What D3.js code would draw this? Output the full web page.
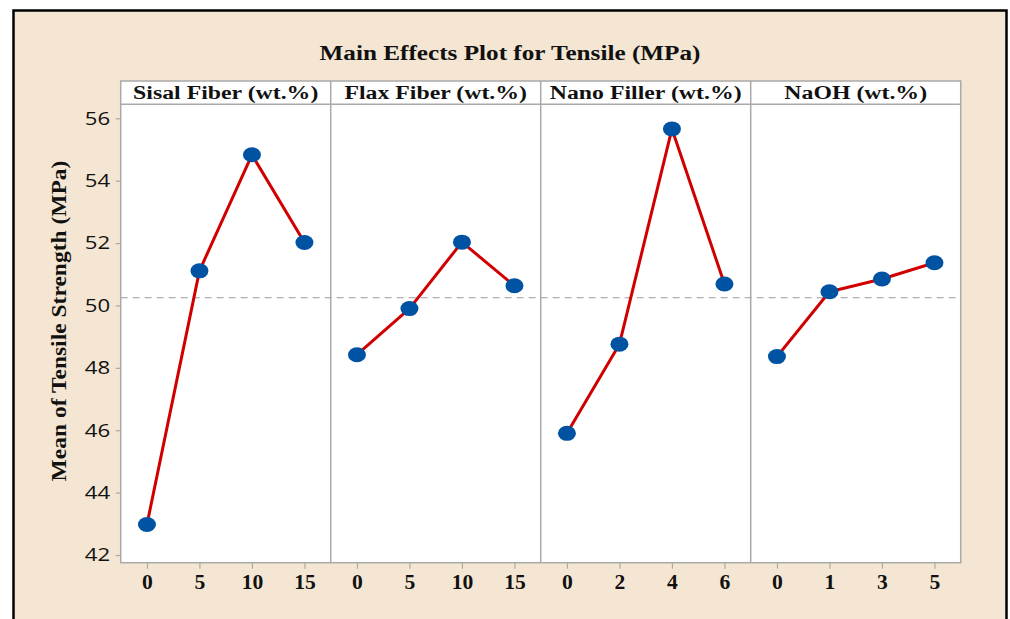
<!DOCTYPE html>
<html>
<head>
<meta charset="utf-8">
<script src="https://cdn.jsdelivr.net/npm/d3@7"></script>
<style>
  html, body { margin: 0; padding: 0; background: #ffffff; }
  svg { display: block; }
</style>
</head>
<body>
<div id="chart"></div>
<script>
// Factor names shown in the panel headers
const factors = ["Sisal Fiber (wt.%)", "Flax Fiber (wt.%)", "Nano Filler (wt.%)", "NaOH (wt.%)"];

// Levels of each factor (x tick labels)
const sisalLevels = ["0", "5", "10", "15"];
const flaxLevels = ["0", "5", "10", "15"];
const nanoLevels = ["0", "2", "4", "6"];
const naohLevels = ["0", "1", "3", "5"];

// Mean tensile strength (MPa) at each level
const sisalMeans = [42.98, 51.11, 54.83, 52.02];
const flaxMeans = [48.42, 49.90, 52.03, 50.63];
const nanoMeans = [45.90, 48.76, 55.66, 50.69];
const naohMeans = [48.36, 50.44, 50.85, 51.37];

// Y axis ticks
const yTicks = [42, 44, 46, 48, 50, 52, 54, 56];

const panels = [
  { name: factors[0], levels: sisalLevels, means: sisalMeans },
  { name: factors[1], levels: flaxLevels, means: flaxMeans },
  { name: factors[2], levels: nanoLevels, means: nanoMeans },
  { name: factors[3], levels: naohLevels, means: naohMeans }
];

const grandMean = d3.mean(panels.flatMap(p => p.means));

const W = 1010, H = 619;
const plotLeft = 120.7, plotRight = 960.7;
const headerTop = 81, headerBottom = 104.3, plotBottom = 562.7;
const panelW = (plotRight - plotLeft) / panels.length;
const frameGray = "#a9a9a9";
const serif = "'Liberation Serif', 'Times New Roman', serif";
const sans = "'Open Sans', 'Noto Sans', sans-serif";
const wide = 1.2; // horizontal stretch applied to the lettering

const svg = d3.select("#chart").append("svg")
  .attr("width", W).attr("height", H);

// page + beige frame with black border
svg.append("rect").attr("width", W).attr("height", H).attr("fill", "#ffffff");
svg.append("rect")
  .attr("x", 13.5).attr("y", 10.5)
  .attr("width", 993).attr("height", 640)
  .attr("fill", "#f4e6d2")
  .attr("stroke", "#000").attr("stroke-width", 2.5);

// title
svg.append("text")
  .attr("transform", `translate(510,60) scale(${wide},1)`)
  .attr("text-anchor", "middle")
  .attr("font-family", serif).attr("font-weight", "bold")
  .attr("font-size", 21)
  .attr("fill", "#111")
  .text("Main Effects Plot for Tensile (MPa)");

// y scale shared by all panels
const y = d3.scaleLinear().domain([42, 56]).range([555, 118.3]);

// white plotting area + header strip
svg.append("rect")
  .attr("x", plotLeft).attr("y", headerTop)
  .attr("width", plotRight - plotLeft).attr("height", plotBottom - headerTop)
  .attr("fill", "#ffffff");

// grand mean reference line
svg.append("line")
  .attr("x1", plotLeft).attr("x2", plotRight)
  .attr("y1", y(grandMean)).attr("y2", y(grandMean))
  .attr("stroke", "#9a9a9a").attr("stroke-width", 1.2)
  .attr("stroke-dasharray", "7,5");

// y axis
const yAxis = svg.append("g")
  .attr("transform", `translate(${plotLeft},0)`)
  .call(d3.axisLeft(y).tickValues(yTicks).tickSize(5).tickPadding(5).tickFormat(d3.format("d")));
yAxis.select(".domain").remove();
yAxis.selectAll(".tick line").attr("stroke", frameGray).attr("stroke-width", 1.2);
yAxis.selectAll(".tick text")
  .attr("x", 0)
  .attr("transform", `translate(-10.5,0) scale(${wide},1)`)
  .attr("font-family", sans)
  .attr("font-size", 18.5).attr("fill", "#111");

// y axis title
svg.append("text")
  .attr("transform", "translate(66,321) rotate(-90) scale(1.12,1)")
  .attr("text-anchor", "middle")
  .attr("font-family", serif).attr("font-weight", "bold")
  .attr("font-size", 21)
  .attr("fill", "#111")
  .text("Mean of Tensile Strength (MPa)");

panels.forEach((p, i) => {
  const x0 = plotLeft + i * panelW;
  const x = d3.scalePoint().domain(p.levels).range([x0, x0 + panelW]).padding(0.5);
  const g = svg.append("g");

  // header label
  g.append("text")
    .attr("transform", `translate(${x0 + panelW / 2},99) scale(1.22,1)`)
    .attr("text-anchor", "middle")
    .attr("font-family", serif).attr("font-weight", "bold")
    .attr("font-size", 19.5).attr("fill", "#111")
    .text(p.name);

  // x axis
  const xa = g.append("g")
    .attr("transform", `translate(0,${plotBottom})`)
    .call(d3.axisBottom(x).tickSize(6).tickPadding(6));
  xa.select(".domain").remove();
  xa.selectAll(".tick line").attr("stroke", frameGray).attr("stroke-width", 1.2);
  xa.selectAll(".tick text")
    .attr("y", 0)
    .attr("transform", "translate(0,12) scale(1.08,1)")
    .attr("font-family", serif).attr("font-weight", "bold")
    .attr("font-size", 20).attr("fill", "#111");

  // connecting line
  const pts = p.levels.map((l, j) => [x(l), y(p.means[j])]);
  g.append("path")
    .attr("d", d3.line()(pts))
    .attr("fill", "none")
    .attr("stroke", "#d10000").attr("stroke-width", 3)
    .attr("stroke-linejoin", "round");

  // level means
  g.selectAll("ellipse").data(pts).join("ellipse")
    .attr("cx", d => d[0]).attr("cy", d => d[1])
    .attr("rx", 9).attr("ry", 7.5)
    .attr("fill", "#0052a3");
});

// panel frame, header rule and dividers
const frame = svg.append("g").attr("fill", "none").attr("stroke", frameGray).attr("stroke-width", 1.5);
frame.append("rect")
  .attr("x", plotLeft).attr("y", headerTop)
  .attr("width", plotRight - plotLeft).attr("height", plotBottom - headerTop);
frame.append("line")
  .attr("x1", plotLeft).attr("x2", plotRight)
  .attr("y1", headerBottom).attr("y2", headerBottom);
d3.range(1, panels.length).forEach(i => {
  frame.append("line")
    .attr("x1", plotLeft + i * panelW).attr("x2", plotLeft + i * panelW)
    .attr("y1", headerTop).attr("y2", plotBottom);
});
</script>
</body>
</html>
